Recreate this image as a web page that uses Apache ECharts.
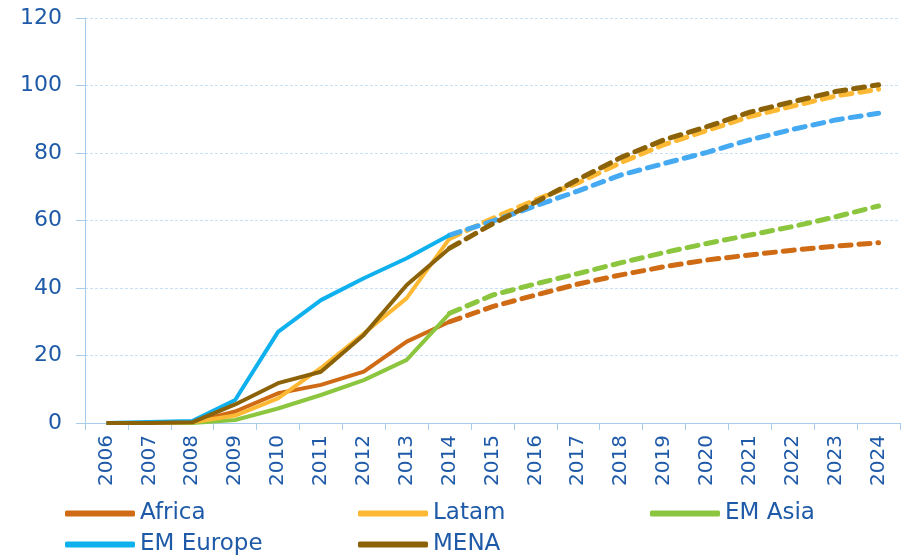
<!DOCTYPE html>
<html>
<head>
<meta charset="utf-8">
<script src="https://cdn.jsdelivr.net/npm/echarts@6/dist/echarts.min.js"></script>
<style>
    html, body { margin: 0; padding: 0; background: #fff; }
    #chart { width: 908px; height: 556px; }
</style>
</head>
<body>
<div id="chart"></div>
<script>
const years = ['2006', '2007', '2008', '2009', '2010', '2011', '2012', '2013', '2014', '2015',
    '2016', '2017', '2018', '2019', '2020', '2021', '2022', '2023', '2024'];
const yTicks = [0, 20, 40, 60, 80, 100, 120];

// actual 2006-2014
const africa = [0, 0, 0.2, 3.4, 8.8, 11.3, 15.2, 24.1, 30];
const latam = [0, 0, 0.2, 2.2, 7.3, 16.3, 26.5, 37, 54.7];
const emAsia = [0, 0, 0, 0.9, 4.3, 8.3, 12.7, 18.7, 32.5];
const emEurope = [0, 0.3, 0.6, 6.8, 27, 36.4, 42.9, 48.8, 55.7];
const mena = [0, 0, 0.2, 5.5, 11.8, 15.2, 26.1, 40.9, 51.8];

// forecast 2014-2024
const africaF = [30, 34.5, 37.9, 41.2, 43.9, 46.3, 48.3, 49.8, 51.2, 52.4, 53.4];
const latamF = [54.7, 60.6, 66.1, 71.2, 77.2, 82.5, 86.7, 90.8, 93.9, 96.9, 98.9];
const emAsiaF = [32.5, 37.9, 41.2, 44.3, 47.5, 50.5, 53.2, 55.7, 58.2, 61.1, 64.3];
const emEuropeF = [55.7, 59.8, 64.3, 68.8, 73.5, 76.9, 80.2, 83.9, 87, 89.8, 91.8];
const menaF = [51.8, 59, 65.4, 72.2, 78.7, 83.9, 87.8, 92.1, 95.2, 98.2, 100.2];

const blue = '#1E5AA8';
const axisBlue = '#A7CBEB';

const regions = [
    { name: 'Africa', color: '#CF6B15', dash: '#CF6B15', actual: africa, forecast: africaF },
    { name: 'EM Asia', color: '#8CC63E', dash: '#8CC63E', actual: emAsia, forecast: emAsiaF },
    { name: 'Latam', color: '#FDB933', dash: '#FDB933', actual: latam, forecast: latamF },
    { name: 'EM Europe', color: '#0EB0EE', dash: '#45AAF2', actual: emEurope, forecast: emEuropeF },
    { name: 'MENA', color: '#8C6209', dash: '#8C6209', actual: mena, forecast: menaF },
];

const pad = n => new Array(n).fill(null);
const series = [];
regions.forEach(r => {
    series.push({
        name: r.name,
        type: 'line',
        symbol: 'none',
        color: r.color,
        lineStyle: { width: 4, color: r.color },
        data: r.actual,
        z: 3,
    });
});
regions.forEach(r => {
    series.push({
        name: r.name,
        type: 'line',
        symbol: 'none',
        color: r.dash,
        lineStyle: { width: 5, color: r.dash, type: [11, 8], cap: 'round' },
        data: pad(8).concat(r.forecast),
        z: 2,
    });
});

// one legend per item so the columns line up like the original
const legendSpots = [
    ['Africa', 65, 502],
    ['Latam', 358, 502],
    ['EM Asia', 650, 502],
    ['EM Europe', 65, 533],
    ['MENA', 358, 533],
];
const legend = legendSpots.map(([name, left, top]) => ({
    data: [name],
    left,
    top,
    padding: 0,
    icon: 'roundRect',
    itemWidth: 70,
    itemHeight: 6,
    itemTextGap: 12,
    selectedMode: false,
    textStyle: { color: blue, fontSize: 23, lineHeight: 22, fontFamily: 'DejaVu Sans' },
}));

const options = {
    animation: false,
    series,
    legend,
    grid: { left: 85, right: 8, top: 18, bottom: 133 },
    xAxis: {
        type: 'category',
        data: years,
        boundaryGap: true,
        axisLine: { lineStyle: { color: axisBlue, width: 1 } },
        axisTick: { show: true, length: 7, interval: 0, lineStyle: { color: axisBlue } },
        axisLabel: {
            interval: 0,
            rotate: 90,
            margin: 12,
            color: blue,
            fontSize: 20,
            fontFamily: 'DejaVu Sans',
        },
        splitLine: { show: false },
    },
    yAxis: {
        type: 'value',
        min: yTicks[0],
        max: yTicks[yTicks.length - 1],
        interval: 20,
        axisLine: { show: true, lineStyle: { color: axisBlue, width: 1 } },
        axisTick: { show: true, length: 9, lineStyle: { color: axisBlue } },
        axisLabel: { margin: 23, color: blue, fontSize: 22, fontFamily: 'DejaVu Sans' },
        splitLine: { show: true, lineStyle: { color: '#C8E0F6', type: [3, 2], width: 1 } },
    },
};

const chart = echarts.init(document.getElementById('chart'));
chart.setOption(options);
</script>
</body>
</html>
